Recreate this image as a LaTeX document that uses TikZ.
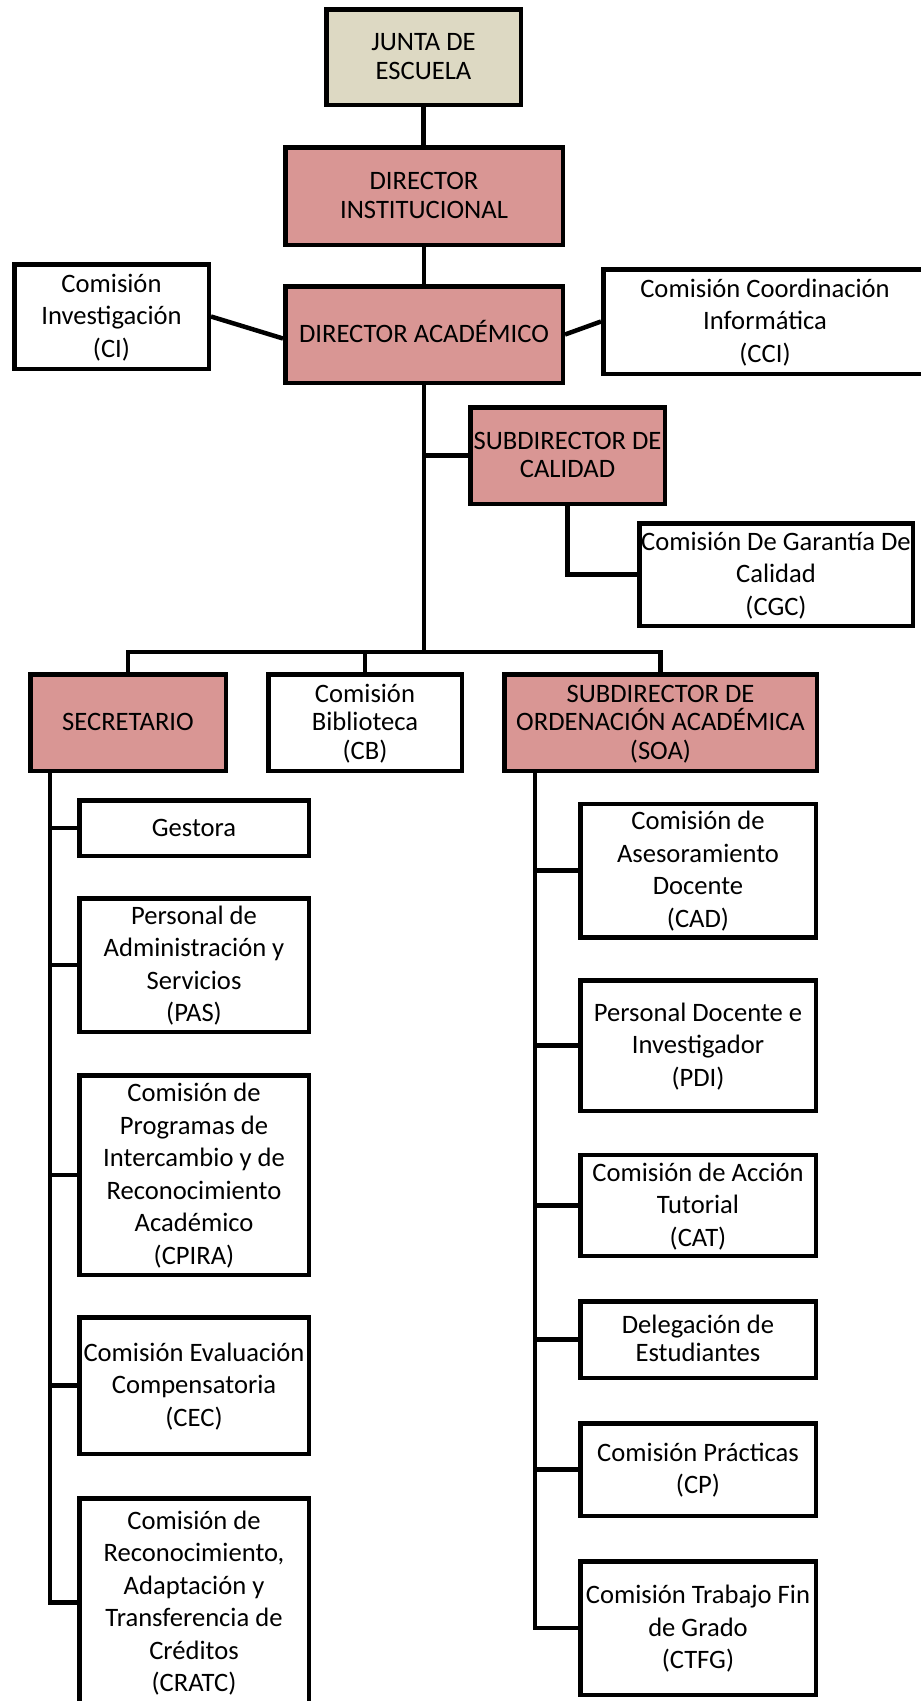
\documentclass[tikz,border=0pt]{standalone}
\usepackage{fontspec}
\setmainfont{Carlito}
\usetikzlibrary{calc}
\definecolor{pinkfill}{HTML}{D99694}
\definecolor{beigefill}{HTML}{DDD9C3}
\tikzset{
  box/.style={rectangle, draw=black, line width=4.5pt, inner sep=0pt, align=center,
    font=\fontsize{26.6pt}{32.5pt}\selectfont},
  tight/.style={font=\fontsize{26.6pt}{28.5pt}\selectfont},
  pinkbox/.style={box, fill=pinkfill},
  beigebox/.style={box, fill=beigefill},
  whitebox/.style={box, fill=white},
  link/.style={draw=black, line width=4.5pt, line join=miter}
}
\newcommand\orgbox[7]{%
  \node[#6, minimum width={(#4-#2-4.5)*1pt}, minimum height={(#5-#3-4.5)*1pt}]
    (#1) at ({(#2+#4)/2},{(#3+#5)/2}) {\rule{0pt}{26pt}#7\rule[-10pt]{0pt}{10pt}};}
\begin{document}
\begin{tikzpicture}[x=1pt,y=-1pt]
\useasboundingbox (0,0) rectangle (921,1701);
\fill[white] (0,0) rectangle (921,1701);
\clip (0,0) rectangle (921,1701);
% top chain
\orgbox{JUNTA}{324}{7}{523}{107}{beigebox,tight}{JUNTA DE\\ESCUELA}
\orgbox{DI}{283}{145}{565}{247}{pinkbox,tight}{DIRECTOR\\INSTITUCIONAL}
\orgbox{DA}{283}{284}{565}{385}{pinkbox}{DIRECTOR ACADÉMICO}
\orgbox{CI}{12}{262}{211}{371}{whitebox}{Comisión\\Investigación\\(CI)}
\orgbox{CCI}{601}{267}{929}{376}{whitebox}{Comisión Coordinación\\Informática\\(CCI)}
\orgbox{SUBCAL}{468}{405}{667}{506}{pinkbox,tight}{SUBDIRECTOR DE\\CALIDAD}
\orgbox{CGC}{637}{521}{915}{628}{whitebox}{Comisión De Garantía De\\Calidad\\(CGC)}
% second level
\orgbox{SEC}{28}{672}{228}{773}{pinkbox}{SECRETARIO}
\orgbox{CB}{266}{672}{464}{773}{whitebox,tight}{Comisión\\Biblioteca\\(CB)}
\orgbox{SOA}{502}{672}{819}{773}{pinkbox,tight}{SUBDIRECTOR DE\\ORDENACIÓN ACADÉMICA\\(SOA)}
% left column
\orgbox{GES}{77}{798}{311}{858}{whitebox}{Gestora}
\orgbox{PAS}{77}{896}{311}{1034}{whitebox}{Personal de\\Administración y\\Servicios\\(PAS)}
\orgbox{CPIRA}{77}{1073}{311}{1277}{whitebox}{Comisión de\\Programas de\\Intercambio y de\\Reconocimiento\\Académico\\(CPIRA)}
\orgbox{CEC}{77}{1315}{311}{1456}{whitebox}{Comisión Evaluación\\Compensatoria\\(CEC)}
\orgbox{CRATC}{77}{1496}{311}{1709}{whitebox}{Comisión de\\Reconocimiento,\\Adaptación y\\Transferencia de\\Créditos\\(CRATC)}
% right column
\orgbox{CAD}{578}{803}{818}{938}{whitebox}{Comisión de\\Asesoramiento\\Docente\\(CAD)}
\orgbox{PDI}{578}{978}{818}{1113}{whitebox}{Personal Docente e\\Investigador\\(PDI)}
\orgbox{CAT}{578}{1153}{818}{1258}{whitebox}{Comisión de Acción\\Tutorial\\(CAT)}
\orgbox{DEL}{578}{1299}{818}{1380}{whitebox,tight}{Delegación de\\Estudiantes}
\orgbox{CP}{578}{1421}{818}{1518}{whitebox}{Comisión Prácticas\\(CP)}
\orgbox{CTFG}{578}{1559}{818}{1697}{whitebox}{Comisión Trabajo Fin\\de Grado\\(CTFG)}
% connectors
\coordinate (busY) at ($(SEC.north)+(0,-20)$);
\coordinate (secT) at ($(SEC.south west)+(22,0)$);
\coordinate (soaT) at ($(SOA.south west)+(33,0)$);
\draw[link] (JUNTA.south) -- (JUNTA.south |- DI.north);
\draw[link] (DI.south) -- (DI.south |- DA.north);
\draw[link] (CI.east) -- ($(DA.west)+(0,4)$);
\draw[link] (DA.east) -- (CCI.west);
\draw[link] (DA.south) -- (DA.south |- busY);
\draw[link] (DA.south |- SUBCAL.west) -- (SUBCAL.west);
\draw[link] (SUBCAL.south) |- (CGC.west);
\draw[link] (SEC.north) -- (busY) -| (SOA.north);
\draw[link] (CB.north) -- (CB.north |- busY);
\draw[link] (secT) |- (CRATC.west);
\foreach \b in {GES,PAS,CPIRA,CEC}{\draw[link] (secT |- \b.west) -- (\b.west);}
\draw[link] (soaT) |- (CTFG.west);
\foreach \b in {CAD,PDI,CAT,DEL,CP}{\draw[link] (soaT |- \b.west) -- (\b.west);}
\end{tikzpicture}
\end{document}
